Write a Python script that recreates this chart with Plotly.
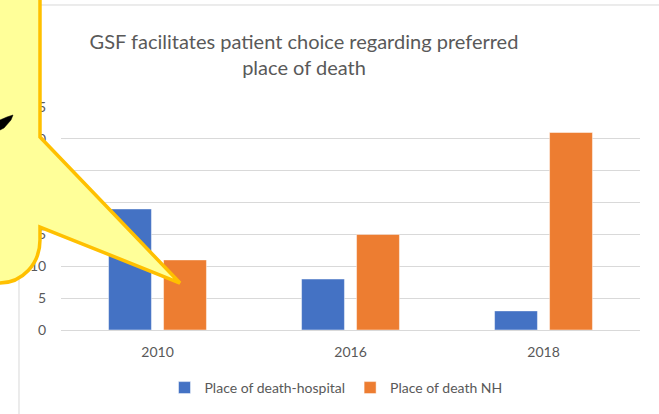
import plotly.graph_objects as go

years = ["2010", "2016", "2018"]
hospital = [19, 8, 3]
nursing_home = [11, 15, 31]
y_ticks = [0, 5, 10, 15, 20, 25, 30, 35]

W, H = 659, 414
L, R, T, B = 61, 19, 107, 84
PW, PH = W - L - R, H - T - B


def px(x, y):
    return ((x - L) / PW, (H - B - y) / PH)


def path(points_cmds):
    out = []
    for cmd, pts in points_cmds:
        coords = " ".join("%.5f,%.5f" % px(x, y) for x, y in pts)
        out.append(cmd + " " + coords if pts else cmd)
    return " ".join(out)


fig = go.Figure()
fig.add_trace(go.Bar(x=years, y=hospital, name="Place of death-hospital",
                     marker=dict(color="#4472C4", line=dict(color="rgba(255,255,255,0.6)", width=0.8))))
fig.add_trace(go.Bar(x=years, y=nursing_home, name="Place of death NH",
                     marker=dict(color="#ED7D31", line=dict(color="rgba(255,255,255,0.6)", width=0.8))))

frame = path([("M", [(19, 700)]), ("L", [(19, 5)]), ("L", [(900, 5)])])
callout = path([
    ("M", [(-20, -20)]),
    ("L", [(40, -20)]),
    ("L", [(40, 137)]),
    ("L", [(180, 283)]),
    ("L", [(40, 227)]),
    ("L", [(40, 240)]),
    ("C", [(40, 264), (22, 283), (0, 283)]),
    ("L", [(-20, 283)]),
    ("Z", []),
])
mark = path([
    ("M", [(0, 120)]),
    ("L", [(7, 117)]),
    ("L", [(13, 115)]),
    ("L", [(11, 120)]),
    ("L", [(4, 128)]),
    ("L", [(0, 130)]),
    ("Z", []),
])

fig.update_layout(
    width=W, height=H,
    margin=dict(l=L, r=R, t=T, b=B, autoexpand=False),
    paper_bgcolor="white", plot_bgcolor="white",
    barmode="group", bargap=0.43, bargroupgap=0.22,
    font=dict(family="Lato, sans-serif", color="#595959", size=14),
    title=dict(text="GSF facilitates patient choice regarding preferred<br>place of death",
               x=(304 - L) / PW, xref="paper", xanchor="center",
               y=1 - 49 / H, yanchor="middle",
               font=dict(family="Lato, sans-serif", size=20, color="#595959")),
    xaxis=dict(showgrid=False, showline=False, zeroline=False,
               ticks="outside", ticklen=9, tickcolor="rgba(0,0,0,0)",
               tickfont=dict(size=14, color="#595959")),
    yaxis=dict(range=[0, 35], tickvals=y_ticks, showgrid=True, gridcolor="#D9D9D9",
               gridwidth=1, zeroline=True, zerolinecolor="#D9D9D9", zerolinewidth=1,
               showline=False, ticks="outside", ticklen=11, tickcolor="rgba(0,0,0,0)",
               tickfont=dict(size=14, color="#595959")),
    legend=dict(orientation="h", x=(336 - L) / PW, xanchor="center",
                y=(H - B - 388) / PH, yanchor="middle",
                font=dict(size=14, color="#595959"), itemwidth=30),
    shapes=[
        dict(type="path", xref="paper", yref="paper", path=frame,
             line=dict(color="#D9D9D9", width=1), layer="above"),
        dict(type="path", xref="paper", yref="paper", path=callout,
             fillcolor="#FFFF99", line=dict(color="#FFC000", width=3.5), layer="above"),
        dict(type="path", xref="paper", yref="paper", path=mark,
             fillcolor="black", line=dict(color="black", width=0.5), layer="above"),
    ],
)

fig.write_html("out.html", config={"displayModeBar": False},
               post_script="document.body.style.margin='0';document.body.style.overflow='hidden';")
